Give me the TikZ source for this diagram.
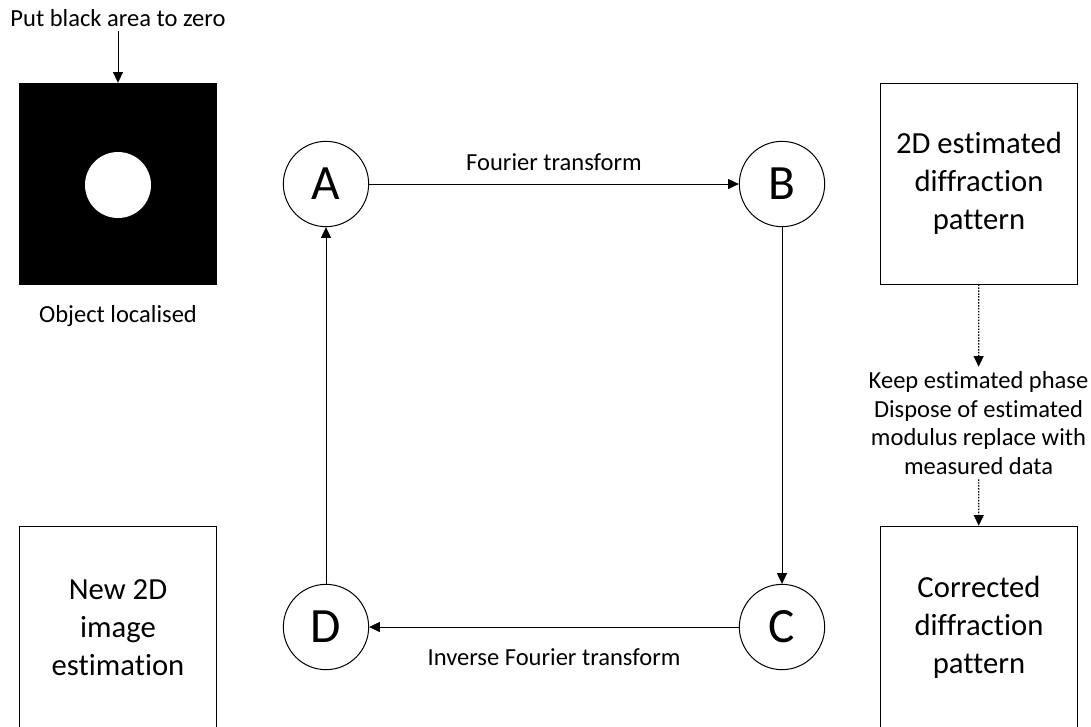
\documentclass[tikz,border=0pt]{standalone}
\usepackage{fontspec}
\setmainfont[Ligatures=NoCommon]{Carlito}
\usetikzlibrary{arrows.meta}
\begin{document}
\begin{tikzpicture}[x=0.75pt,y=-0.75pt,
  box/.style={draw, line width=0.75pt, minimum width=147.75pt, minimum height=150.75pt,
    align=center, inner sep=0pt, font=\fontsize{23}{28.5}\selectfont},
  state/.style={circle, draw, line width=0.75pt, minimum size=64pt, inner sep=0pt,
    font=\fontsize{37}{40}\selectfont},
  note/.style={font=\fontsize{18.4}{21.5}\selectfont, align=center},
  flow/.style={-{Triangle[length=8pt,width=7.5pt]}, line width=0.75pt},
  dotflow/.style={flow, line width=0.9pt, dash pattern=on 1.1pt off 1.1pt}]
\useasboundingbox (0,0) rectangle (1091,726);
\clip (0,0) rectangle (1091,726);

% mask with the object window
\node[draw, fill=black, minimum width=147.75pt, minimum height=150.75pt, inner sep=0pt] (obj) at (118,183.5) {};
\node[circle, fill=white, minimum size=49.5pt, inner sep=0pt] (hole) at (118,185) {};
\node[note] (put) at (118,18) {Put black area to zero};
\node[note] (loc) at (118,316) {Object localised};
\draw[flow] (put) -- (obj);

% boxes
\node[box] (est) at (979,183.5) {2D estimated\\diffraction\\pattern};
\node[box, minimum height=152pt] (corr) at (979,627.5) {Corrected\\diffraction\\pattern};
\node[box, minimum height=152pt] (new) at (118,627.5) {New 2D\\image\\estimation};

% modulus constraint
\node[note] (keep) at (978.5,423) {Keep estimated phase\\Dispose of estimated\\modulus replace with\\measured data};
\draw[dotflow] (est) -- (keep);
\draw[dotflow] (keep) -- (corr);

% iteration loop
\node[state] (A) at (326,184) {A};
\node[state] (B) at (782,184) {B};
\node[state] (C) at (782,627) {C};
\node[state] (D) at (326,627) {D};
\draw[flow] (A) -- node[note, midway, yshift=16.5pt] {Fourier transform} (B);
\draw[flow] (B) -- (C);
\draw[flow] (C) -- node[note, midway, yshift=-22.5pt] {Inverse Fourier transform} (D);
\draw[flow] (D) -- (A);
\end{tikzpicture}
\end{document}
